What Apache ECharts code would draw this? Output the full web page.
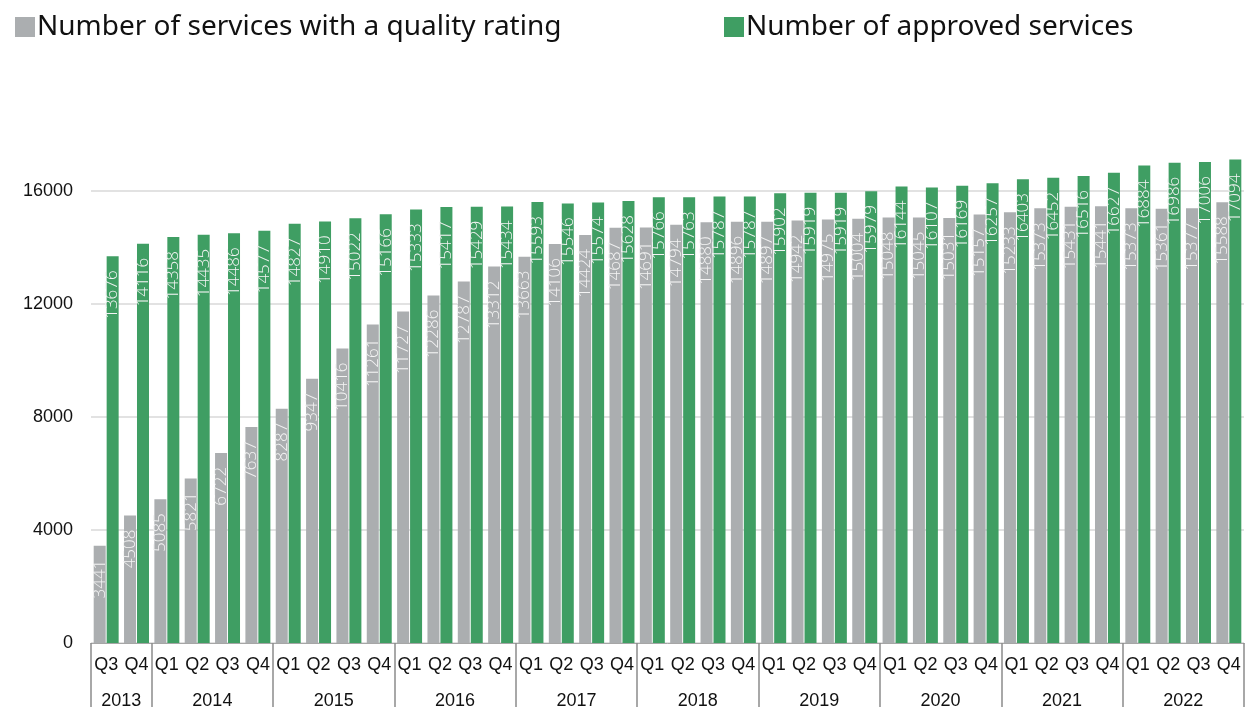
<!DOCTYPE html>
<html>
<head>
<meta charset="utf-8">
<script src="https://cdn.jsdelivr.net/npm/echarts@6/dist/echarts.min.js"></script>
<style>
  html, body { margin: 0; padding: 0; background: #fff; }
  #chart { width: 1247px; height: 710px; }
</style>
</head>
<body>
<div id="chart"></div>
<script>
const quarters = [
  'Q3', 'Q4',
  'Q1', 'Q2', 'Q3', 'Q4', 'Q1', 'Q2', 'Q3', 'Q4', 'Q1', 'Q2', 'Q3', 'Q4',
  'Q1', 'Q2', 'Q3', 'Q4', 'Q1', 'Q2', 'Q3', 'Q4', 'Q1', 'Q2', 'Q3', 'Q4',
  'Q1', 'Q2', 'Q3', 'Q4', 'Q1', 'Q2', 'Q3', 'Q4', 'Q1', 'Q2', 'Q3', 'Q4'
]
const years = ['2013', '2014', '2015', '2016', '2017', '2018', '2019', '2020', '2021', '2022']
const yearQuarterCounts = [2, 4, 4, 4, 4, 4, 4, 4, 4, 4]

const ratedServices = [
  3441, 4508,
  5085, 5821, 6722, 7637,
  8287, 9347, 10416, 11261,
  11727, 12286, 12787, 13312,
  13663, 14106, 14424, 14687,
  14691, 14794, 14880, 14896,
  14897, 14942, 14975, 15004,
  15048, 15045, 15031, 15157,
  15233, 15373, 15431, 15441,
  15373, 15361, 15377, 15588
]
const approvedServices = [
  13676, 14116,
  14358, 14435, 14486, 14577,
  14827, 14910, 15022, 15166,
  15333, 15417, 15429, 15434,
  15593, 15546, 15574, 15628,
  15766, 15763, 15787, 15787,
  15902, 15919, 15919, 15979,
  16144, 16107, 16169, 16257,
  16403, 16452, 16516, 16627,
  16884, 16986, 17006, 17094
]
const yTicks = [0, 4000, 8000, 12000, 16000]

const grayColor = '#abaeb0'
const greenColor = '#3f9e63'

// year labels sit on boundary points between quarters (0..38)
const boundaryLabels = new Array(quarters.length + 1).fill('')
const yearStarts = []
let pos = 0
years.forEach((y, i) => {
  yearStarts.push(pos)
  boundaryLabels[pos + yearQuarterCounts[i] / 2] = y
  pos += yearQuarterCounts[i]
})

const barLabel = {
  show: true,
  position: 'insideTop',
  rotate: 90,
  align: 'right',
  verticalAlign: 'middle',
  distance: 14,
  color: '#f4f4f4',
  fontFamily: 'Open Sans',
  fontWeight: 300,
  fontSize: 17
}

const chart = echarts.init(document.getElementById('chart'))

const option = {
  animation: false,
  legend: [
    {
      left: 10,
      top: 8,
      itemWidth: 20,
      itemHeight: 20,
      icon: 'rect',
      textStyle: { fontFamily: 'Noto Sans', fontSize: 28, color: '#111', padding: [0, 0, 0, -3] },
      data: ['Number of services with a quality rating']
    },
    {
      left: 719,
      top: 8,
      itemWidth: 20,
      itemHeight: 20,
      icon: 'rect',
      textStyle: { fontFamily: 'Noto Sans', fontSize: 28, color: '#111', padding: [0, 0, 0, -3] },
      data: ['Number of approved services']
    }
  ],
  grid: { left: 91, top: 134, width: 1159, bottom: 62, containLabel: false },
  xAxis: [
    {
      type: 'category',
      data: quarters,
      axisLine: { lineStyle: { color: '#a6a6a6', width: 1 } },
      axisTick: {
        show: true,
        length: 64,
        lineStyle: { color: '#8c8c8c', width: 1.5 },
        interval: (i) => yearStarts.includes(i)
      },
      axisLabel: {
        interval: 0,
        margin: 13,
        fontFamily: 'Liberation Sans',
        fontSize: 18,
        color: '#111'
      }
    },
    {
      type: 'category',
      position: 'bottom',
      boundaryGap: false,
      data: boundaryLabels,
      axisLine: { show: false },
      axisTick: { show: false },
      axisLabel: {
        interval: 0,
        margin: 49,
        fontFamily: 'Liberation Sans',
        fontSize: 18,
        color: '#111'
      }
    }
  ],
  yAxis: {
    type: 'value',
    min: yTicks[0],
    max: 18000,
    interval: yTicks[1] - yTicks[0],
    axisLine: { show: false },
    axisTick: { show: false },
    splitLine: { show: true, showMaxLine: false, lineStyle: { color: '#d9d9d9', width: 1.5 } },
    axisLabel: {
      showMaxLabel: false,
      margin: 18,
      formatter: (v) => String(v),
      fontFamily: 'Liberation Sans',
      fontSize: 18,
      color: '#111'
    }
  },
  series: [
    {
      name: 'Number of services with a quality rating',
      type: 'bar',
      xAxisIndex: 0,
      data: ratedServices,
      barWidth: 12,
      barGap: '8%',
      itemStyle: { color: grayColor },
      label: barLabel
    },
    {
      name: 'Number of approved services',
      type: 'bar',
      xAxisIndex: 0,
      data: approvedServices,
      barWidth: 12,
      barGap: '8%',
      itemStyle: { color: greenColor },
      label: barLabel
    }
  ]
}

chart.setOption(option)
</script>
</body>
</html>
